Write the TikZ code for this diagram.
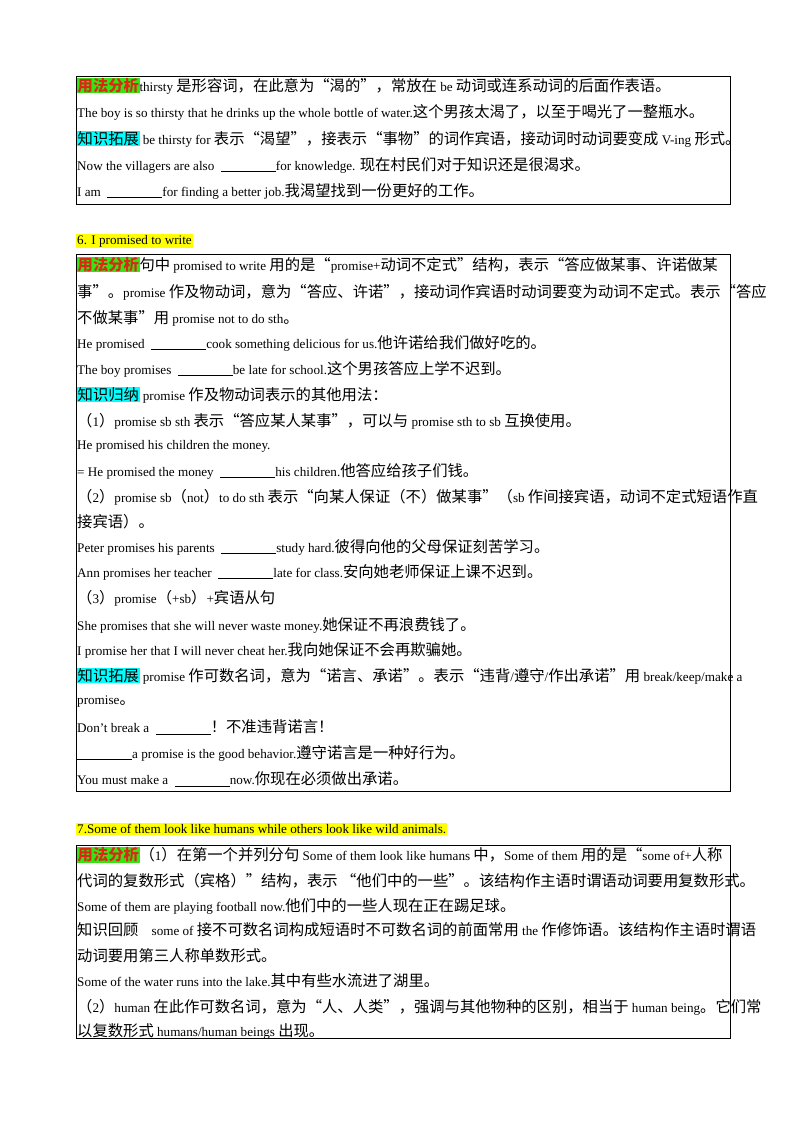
\documentclass[tikz,border=0pt]{standalone}
\usepackage{fontspec}
\setmainfont[Scale=0.9]{Liberation Serif}
\newfontfamily\cjk[Scale=1.05]{Noto Sans CJK SC}
\newfontfamily\lat[Scale=0.9]{Liberation Serif}
\XeTeXinterchartokenstate=1
\newXeTeXintercharclass\cjkclass
\newcount\cc
\cc="4E00 \loop\ifnum\cc<"9FFF \XeTeXcharclass\cc=\cjkclass \advance\cc 1 \repeat
\cc="3000 \loop\ifnum\cc<"3040 \XeTeXcharclass\cc=\cjkclass \advance\cc 1 \repeat
\cc="FF00 \loop\ifnum\cc<"FF60 \XeTeXcharclass\cc=\cjkclass \advance\cc 1 \repeat
\XeTeXcharclass"201C=\cjkclass \XeTeXcharclass"201D=\cjkclass
\XeTeXinterchartoks 0 \cjkclass={\cjk}
\XeTeXinterchartoks 4095 \cjkclass={\cjk}
\XeTeXinterchartoks \cjkclass 0={\lat}
\XeTeXinterchartoks \cjkclass 4095={\lat}
\definecolor{hgreen}{RGB}{50,230,20}
\definecolor{hcyan}{RGB}{0,255,255}
\definecolor{hyel}{RGB}{255,255,0}
\definecolor{lred}{RGB}{220,40,20}
\newcommand{\bl}{\rule[-2pt]{55pt}{0.7pt}}
\newcommand{\ga}{\colorbox{hgreen}{\textcolor{lred}{\textbf{用法分析}}}}
\newcommand{\cy}[1]{\colorbox{hcyan}{#1}}
\begin{document}
\begin{tikzpicture}[x=1pt,y=-1pt,font=\fontsize{14.6}{16}\selectfont,
  ln/.style={anchor=west,inner sep=0pt},
  frame/.style={draw,line width=0.8pt},
  ttl/.style={anchor=west,inner sep=1pt,fill=hyel}]
\useasboundingbox (0,0) rectangle (800,1132);
\setlength{\fboxsep}{0.5pt}
\draw[frame] (76,76) rectangle (730,204);
\node[ln] (a1) at (77,86) {\ga thirsty 是形容词，在此意为“渴的”，常放在 be 动词或连系动词的后面作表语。};
\node[ln] (a2) at (77,112) {The boy is so thirsty that he drinks up the whole bottle of water.这个男孩太渴了，以至于喝光了一整瓶水。};
\node[ln] (a3) at (77,139) {\cy{知识拓展} be thirsty for 表示“渴望”，接表示“事物”的词作宾语，接动词时动词要变成 V-ing 形式。};
\node[ln] (a4) at (77,165) {Now the villagers are also \ \bl for knowledge. 现在村民们对于知识还是很渴求。};
\node[ln] (a5) at (77,191) {I am \ \bl for finding a better job.我渴望找到一份更好的工作。};
\node[ttl] (t6) at (76,241) {6. I promised to write};
\draw[frame] (76,254) rectangle (730,791);
\node[ln] (b1) at (77,265) {\ga 句中 promised to write 用的是“promise+动词不定式”结构，表示“答应做某事、许诺做某};
\node[ln] (b2) at (77,292) {事”。promise 作及物动词，意为“答应、许诺”，接动词作宾语时动词要变为动词不定式。表示“答应};
\node[ln] (b3) at (77,318) {不做某事”用 promise not to do sth。};
\node[ln] (b4) at (77,343) {He promised \ \bl cook something delicious for us.他许诺给我们做好吃的。};
\node[ln] (b5) at (77,369) {The boy promises \ \bl be late for school.这个男孩答应上学不迟到。};
\node[ln] (b6) at (77,395) {\cy{知识归纳} promise 作及物动词表示的其他用法：};
\node[ln] (b7) at (77,421) {（1）promise sb sth 表示“答应某人某事”，可以与 promise sth to sb 互换使用。};
\node[ln] (b8) at (77,446) {He promised his children the money.};
\node[ln] (b9) at (77,471) {= He promised the money \ \bl his children.他答应给孩子们钱。};
\node[ln] (b10) at (77,497) {（2）promise sb（not）to do sth 表示“向某人保证（不）做某事”（sb 作间接宾语，动词不定式短语作直};
\node[ln] (b11) at (77,522) {接宾语）。};
\node[ln] (b12) at (77,547) {Peter promises his parents \ \bl study hard.彼得向他的父母保证刻苦学习。};
\node[ln] (b13) at (77,572) {Ann promises her teacher \ \bl late for class.安向她老师保证上课不迟到。};
\node[ln] (b14) at (77,598) {（3）promise（+sb）+宾语从句};
\node[ln] (b15) at (77,625) {She promises that she will never waste money.她保证不再浪费钱了。};
\node[ln] (b16) at (77,650) {I promise her that I will never cheat her.我向她保证不会再欺骗她。};
\node[ln] (b17) at (77,676) {\cy{知识拓展} promise 作可数名词，意为“诺言、承诺”。表示“违背/遵守/作出承诺”用 break/keep/make a};
\node[ln] (b18) at (77,702) {promise。};
\node[ln] (b19) at (77,727) {Don’t break a \ \bl ！不准违背诺言！};
\node[ln] (b20) at (77,753) {\bl a promise is the good behavior.遵守诺言是一种好行为。};
\node[ln] (b21) at (77,779) {You must make a \ \bl now.你现在必须做出承诺。};
\node[ttl] (t7) at (76,829) {7.Some of them look like humans while others look like wild animals.};
\draw[frame] (76,845) rectangle (730,1038);
\node[ln] (c1) at (77,855) {\ga （1）在第一个并列分句 Some of them look like humans 中，Some of them 用的是“some of+人称};
\node[ln] (c2) at (77,881) {代词的复数形式（宾格）”结构，表示 “他们中的一些”。该结构作主语时谓语动词要用复数形式。};
\node[ln] (c3) at (77,906) {Some of them are playing football now.他们中的一些人现在正在踢足球。};
\node[ln] (c4) at (77,930) {知识回顾\quad some of 接不可数名词构成短语时不可数名词的前面常用 the 作修饰语。该结构作主语时谓语};
\node[ln] (c5) at (77,956) {动词要用第三人称单数形式。};
\node[ln] (c6) at (77,981) {Some of the water runs into the lake.其中有些水流进了湖里。};
\node[ln] (c7) at (77,1007) {（2）human 在此作可数名词，意为“人、人类”，强调与其他物种的区别，相当于 human being。它们常};
\node[ln] (c8) at (77,1031) {以复数形式 humans/human beings 出现。};
\end{tikzpicture}
\end{document}
